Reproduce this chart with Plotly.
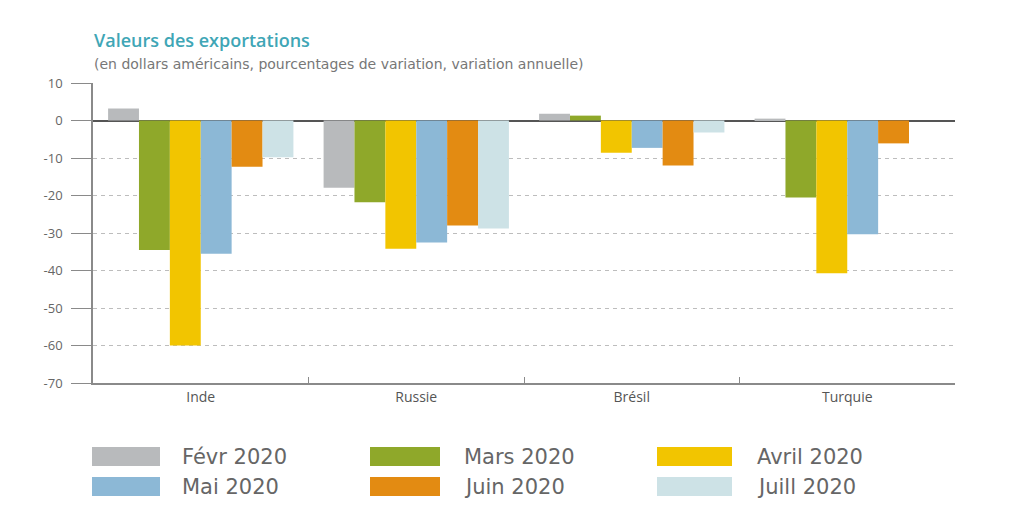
import plotly.graph_objects as go

# ---- data ----
countries = ["Inde", "Russie", "Brésil", "Turquie"]
series_names = ["Févr 2020", "Mars 2020", "Avril 2020", "Mai 2020", "Juin 2020", "Juill 2020"]
fevr = [3.2, -17.9, 1.8, 0.5]
mars = [-34.5, -21.8, 1.3, -20.5]
avril = [-60.0, -34.2, -8.6, -40.7]
mai = [-35.5, -32.5, -7.3, -30.3]
juin = [-12.3, -28.0, -12.0, -6.1]
juill = [-9.8, -28.8, -3.2, 0.0]
y_ticks = [10, 0, -10, -20, -30, -40, -50, -60, -70]

values = [fevr, mars, avril, mai, juin, juill]
colors = ["#b8babc", "#8fa82a", "#f2c500", "#8cb8d6", "#e38b12", "#cde2e6"]

W, H = 1032, 506
L, R, T, B = 93, 77, 83, 123
pw, ph = W - L - R, H - T - B

def px2x(px):
    return (px - L) / pw

def px2y(py):
    return (H - B - py) / ph

fig = go.Figure()
for name, vals, col in zip(series_names, values, colors):
    fig.add_trace(go.Bar(x=countries, y=vals, name=name, marker=dict(color=col, line=dict(width=0)),
                         showlegend=False, hoverinfo="skip"))

fig.update_layout(
    width=W, height=H,
    margin=dict(l=L, r=R, t=T, b=B),
    paper_bgcolor="white", plot_bgcolor="white",
    barmode="group", bargap=0.14, bargroupgap=0,
    font=dict(family="Open Sans, DejaVu Sans, sans-serif", color="#555"),
    xaxis=dict(
        showline=True, linecolor="#8a8a8a", linewidth=1.5,
        ticks="inside", tickson="boundaries", ticklen=6, tickcolor="#8a8a8a",
        tickfont=dict(size=14, color="#555"), showgrid=False,
    ),
    yaxis=dict(
        range=[-70, 10], tickvals=y_ticks, ticktext=[str(v) for v in y_ticks],
        showline=True, linecolor="#8a8a8a", linewidth=1.5,
        ticks="outside", ticklen=20, tickcolor="#8a8a8a",
        ticklabelstandoff=6,
        tickfont=dict(size=13, color="#666"),
        showgrid=True, gridcolor="#bdbdbd", griddash="4px,4px", gridwidth=1,
        zeroline=True, zerolinecolor="#555", zerolinewidth=1.5,
    ),
)

# title & subtitle
fig.add_annotation(text="Valeurs des exportations", xref="paper", yref="paper",
                   x=px2x(92), y=px2y(40), xanchor="left", yanchor="middle", showarrow=False,
                   font=dict(family="Open Sans, DejaVu Sans, sans-serif", size=18, color="#3fa6b6", weight=600))
fig.add_annotation(text="(en dollars américains, pourcentages de variation, variation annuelle)",
                   xref="paper", yref="paper",
                   x=px2x(92), y=px2y(64), xanchor="left", yanchor="middle", showarrow=False,
                   font=dict(family="DejaVu Sans, sans-serif", size=14, color="#777"))

# manual legend
col_swatch = [(92, 160), (370, 440), (657, 732)]
col_text = [180, 462, 755]
rows = [(447, 466), (477, 496)]
for i, (name, col) in enumerate(zip(series_names, colors)):
    r, c = divmod(i, 3)
    x0, x1 = col_swatch[c]
    y0, y1 = rows[r]
    fig.add_shape(type="rect", xref="paper", yref="paper",
                  x0=px2x(x0), x1=px2x(x1), y0=px2y(y1), y1=px2y(y0),
                  fillcolor=col, line=dict(width=0))
    fig.add_annotation(text=name, xref="paper", yref="paper",
                       x=px2x(col_text[c]), y=px2y((y0 + y1) / 2), xanchor="left", yanchor="middle",
                       showarrow=False, font=dict(family="DejaVu Sans, sans-serif", size=21, color="#666"))

fig.write_html("out.html")
